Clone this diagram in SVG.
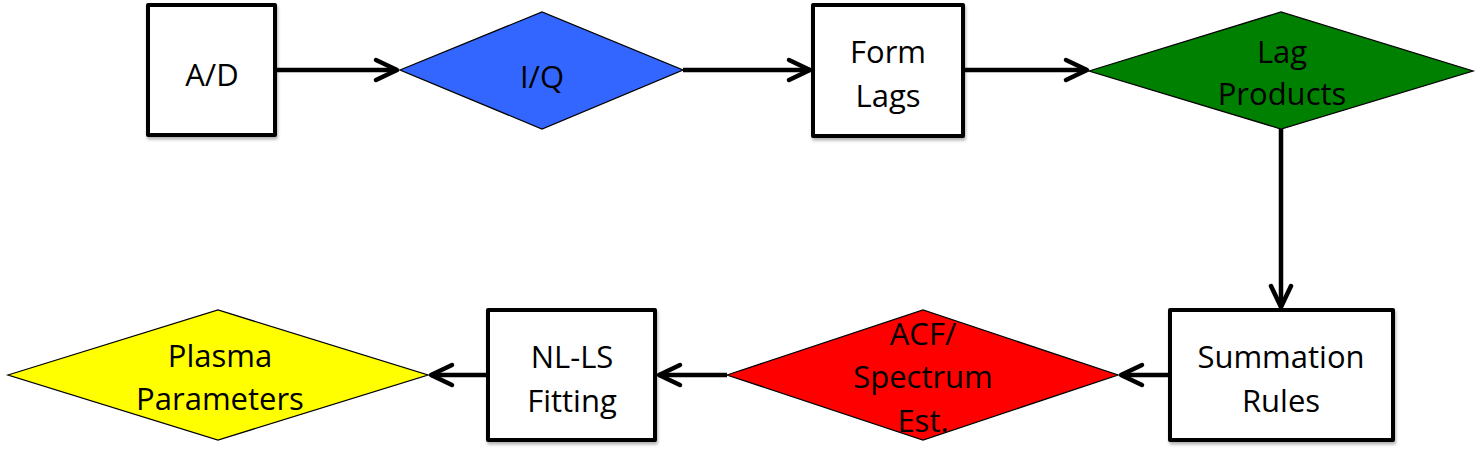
<svg xmlns="http://www.w3.org/2000/svg" width="1480" height="461" viewBox="0 0 1480 461">
<style>
.box{fill:#fff;stroke:#000;stroke-width:4;stroke-linejoin:round}
.dia{stroke:#000;stroke-width:1.3;stroke-linejoin:miter}
.t{font-family:"Open Sans","Liberation Sans",sans-serif;font-size:31px;fill:#000;text-anchor:middle}
.c{fill:none;stroke:#000;stroke-width:4.5;marker-end:url(#ah)}
</style>
<defs>
<marker id="ah" markerUnits="userSpaceOnUse" markerWidth="40" markerHeight="40" refX="0" refY="0" orient="auto" overflow="visible">
<path d="M-21,-10 L0,0 L-21,10" fill="none" stroke="#000" stroke-width="4.5" stroke-linecap="round" stroke-linejoin="round"/>
</marker>
<filter id="sh" x="-10%" y="-10%" width="125%" height="125%">
<feDropShadow dx="1" dy="2.5" stdDeviation="1.5" flood-color="#000" flood-opacity="0.3"/>
</filter>
</defs>
<g id="connectors">
<path class="c" d="M275,70 H397"/>
<path class="c" d="M683,70 H810"/>
<path class="c" d="M963,70 H1087"/>
<path class="c" d="M1281,129 V307"/>
<path class="c" d="M1170,375 H1121"/>
<path class="c" d="M727,375 H659"/>
<path class="c" d="M488,375 H431"/>
</g>
<g id="ad">
<rect class="box" x="148" y="5" width="127" height="130" filter="url(#sh)"/>
<text class="t" x="212" y="86">A/D</text>
</g>
<g id="iq">
<polygon class="dia" fill="#3366FF" points="400,70 542,12 683,70 542,129"/>
<text class="t" x="542" y="88">I/Q</text>
</g>
<g id="formlags">
<rect class="box" x="813" y="5" width="150" height="131" filter="url(#sh)"/>
<text class="t" x="888" y="63">Form</text>
<text class="t" x="888" y="107">Lags</text>
</g>
<g id="lagproducts">
<polygon class="dia" fill="#008000" points="1089,71 1281,12 1473,71 1281,129"/>
<text class="t" x="1282" y="63">Lag</text>
<text class="t" x="1282" y="105">Products</text>
</g>
<g id="summation">
<rect class="box" x="1170" y="310" width="223" height="130" filter="url(#sh)"/>
<text class="t" x="1281" y="368">Summation</text>
<text class="t" x="1281" y="412">Rules</text>
</g>
<g id="acf">
<polygon class="dia" fill="#FF0000" points="727,375 923,310 1118,375 923,440"/>
<text class="t" x="923" y="345">ACF/</text>
<text class="t" x="923" y="388">Spectrum</text>
<text class="t" x="923" y="432">Est.</text>
</g>
<g id="nlls">
<rect class="box" x="488" y="310" width="167" height="130" filter="url(#sh)"/>
<text class="t" x="572" y="368">NL-LS</text>
<text class="t" x="572" y="412">Fitting</text>
</g>
<g id="plasma">
<polygon class="dia" fill="#FFFF00" points="8,375 218,310 428,375 218,440"/>
<text class="t" x="220" y="367">Plasma</text>
<text class="t" x="220" y="410">Parameters</text>
</g>
</svg>
